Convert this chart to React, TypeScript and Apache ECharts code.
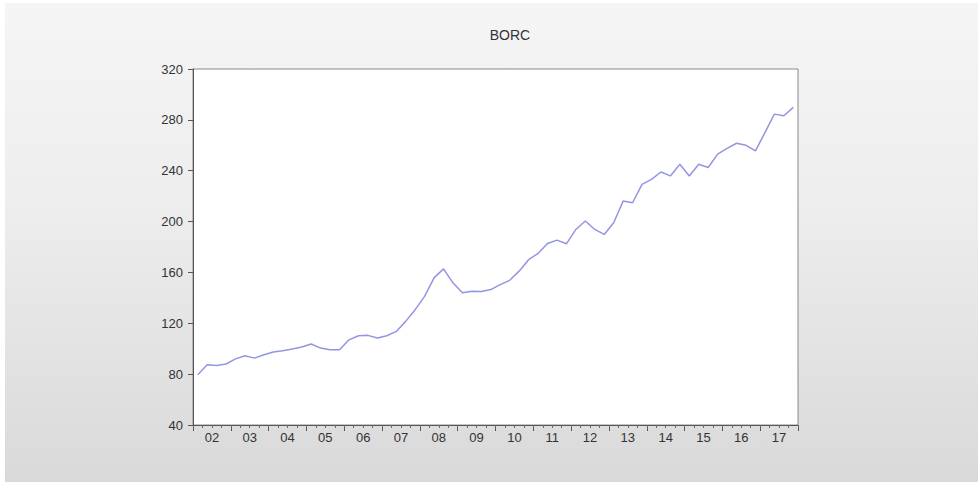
import React, { useEffect, useRef } from "react";
import * as echarts from "echarts";

const title = "BORC";
const yearLabels = ["02", "03", "04", "05", "06", "07", "08", "09", "10", "11", "12", "13", "14", "15", "16", "17"];
const yTicks = [40, 80, 120, 160, 200, 240, 280, 320];
// Quarterly values 2002Q1 .. 2017Q4
const borc = [
  79.5, 87.4, 86.8, 88.0, 92.0, 94.5, 92.6, 95.2,
  97.4, 98.4, 99.7, 101.3, 103.7, 100.5, 99.2, 99.2,
  107.0, 110.2, 110.5, 108.4, 110.2, 113.6, 121.5, 130.7,
  141.2, 155.7, 162.8, 151.8, 144.0, 145.2, 145.0, 146.5,
  150.4, 153.8, 161.0, 170.0, 174.9, 182.8, 185.4, 182.5,
  193.8, 200.4, 193.8, 189.9, 199.1, 216.1, 214.8, 229.3,
  233.2, 239.0, 235.9, 245.1, 235.9, 245.1, 242.5, 253.0,
  257.5, 261.6, 260.0, 255.6, 270.0, 284.5, 283.2, 289.8,
];

export default function App() {
  const ref = useRef<HTMLDivElement>(null);
  useEffect(() => {
    if (!ref.current) return;
    const chart = echarts.init(ref.current, undefined, { renderer: "svg" });
    const n = borc.length;
    const data = borc.map((v, i) => [i + 0.5, v]);
    chart.setOption({
      animation: false,
      backgroundColor: "#ffffff",
      graphic: [
        {
          type: "rect",
          z: -10,
          silent: true,
          shape: { x: 5, y: 3, width: 973, height: 479 },
          style: {
            fill: new echarts.graphic.LinearGradient(0, 0, 0, 1, [
              { offset: 0, color: "#f5f5f5" },
              { offset: 0.4, color: "#eeeeee" },
              { offset: 1, color: "#d9d9d9" },
            ]),
          },
        },
      ],
      title: {
        text: title,
        left: 505,
        textAlign: "center",
        top: 23,
        textStyle: { fontFamily: "Liberation Sans", fontSize: 14, fontWeight: "normal", color: "#333" },
      },
      grid: {
        left: 193,
        top: 69,
        width: 605,
        height: 356,
        show: true,
        backgroundColor: "#ffffff",
        borderColor: "#8a8a8a",
        borderWidth: 1,
      },
      xAxis: [
        {
          type: "value",
          min: 0,
          max: n,
          interval: 2,
          position: "bottom",
          axisLine: { show: false },
          axisTick: { show: false },
          splitLine: { show: false },
          axisLabel: {
            showMinLabel: true,
            showMaxLabel: true,
            margin: 6,
            fontFamily: "Liberation Sans",
            fontSize: 13,
            color: "#333",
            formatter: (v: number) => {
              if (v % 4 !== 2) return "";
              const idx = (v - 2) / 4;
              return yearLabels[idx] ?? "";
            },
          },
        },
        {
          type: "value",
          min: 0,
          max: n,
          interval: 4,
          position: "bottom",
          axisLine: { show: true, lineStyle: { color: "#555", width: 1 } },
          axisTick: { show: true, length: 6, lineStyle: { color: "#555" } },
          splitLine: { show: false },
          axisLabel: { show: false },
        },
        {
          type: "value",
          min: 0,
          max: n,
          interval: 1,
          position: "bottom",
          axisLine: { show: false },
          axisTick: { show: true, length: 3, lineStyle: { color: "#666" } },
          splitLine: { show: false },
          axisLabel: { show: false },
        },
      ],
      yAxis: {
        type: "value",
        min: yTicks[0],
        max: yTicks[yTicks.length - 1],
        interval: 40,
        axisLine: { show: true, lineStyle: { color: "#555", width: 1 } },
        axisTick: { show: true, length: 5, lineStyle: { color: "#555" } },
        splitLine: { show: false },
        axisLabel: {
          margin: 10,
          fontFamily: "Liberation Sans",
          fontSize: 13,
          color: "#333",
        },
      },
      series: [
        {
          type: "line",
          xAxisIndex: 0,
          data,
          showSymbol: false,
          symbol: "none",
          lineStyle: { color: "#9494e4", width: 1.5 },
        },
      ],
    });
    return () => chart.dispose();
  }, []);
  return (
    <div
      ref={ref}
      style={{ position: "fixed", left: 0, top: 0, width: 978, height: 486 }}
    />
  );
}
